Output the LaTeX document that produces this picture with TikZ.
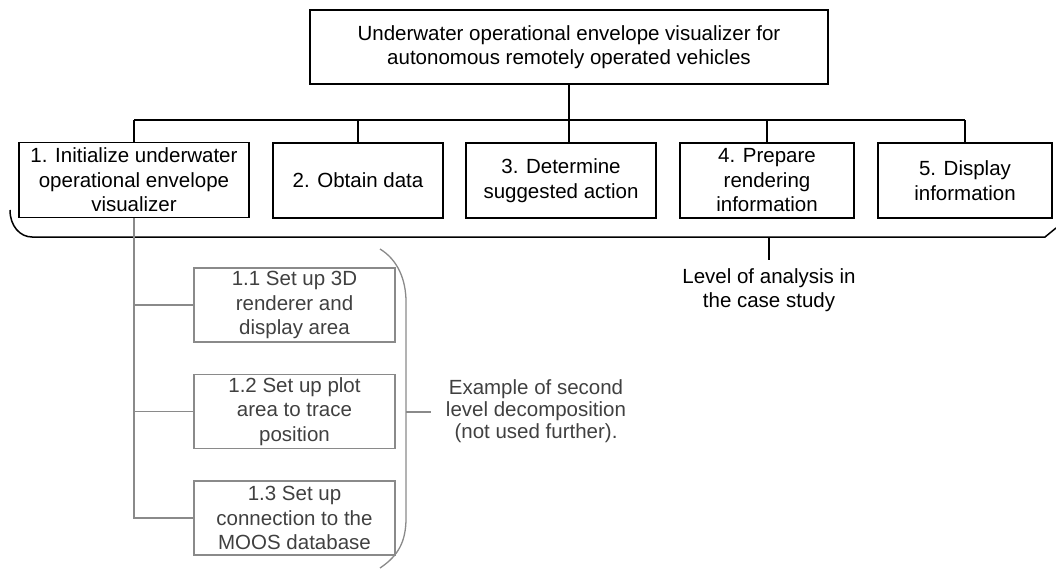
\documentclass[tikz,border=0pt]{standalone}
\usepackage{fontspec}
\setmainfont{Liberation Sans}
\definecolor{subline}{HTML}{8A8A8A}
\definecolor{subtext}{HTML}{404040}
\begin{document}
\begin{tikzpicture}[x=1pt,y=-1pt,
  every node/.style={font=\fontsize{20.5}{24.5}\selectfont, inner sep=0pt, align=center},
  task/.style={draw=black, line width=1.6pt, minimum height=75pt},
  subtask/.style={draw=subline, line width=1.3pt, text=subtext, minimum width=201pt, minimum height=74pt},
  link/.style={draw=black, line width=1.5pt},
  sublink/.style={draw=subline, line width=1.3pt},
  note/.style={text=subtext, font=\fontsize{20.5}{22}\selectfont}]
\useasboundingbox (0,0) rectangle (1056,569);

% root of the decomposition
\node[task, minimum width=518pt, minimum height=74pt] (top) at (569,47)
  {Underwater operational envelope visualizer for\\autonomous remotely operated vehicles};

% first level
\node[task, minimum width=230pt] (b1) at (134,180) {1. Initialize underwater\\operational envelope\\visualizer};
\node[task, minimum width=170pt] (b2) at (358,180.5) {2. Obtain data};
\node[task, minimum width=190pt] (b3) at (561,180.5) {3. Determine\\suggested action};
\node[task, minimum width=174pt] (b4) at (767,180.5) {4. Prepare\\rendering\\information};
\node[task, minimum width=174pt] (b5) at (965,180.5) {5. Display\\information};

\coordinate (busL) at (134,120);
\coordinate (busR) at (965,120);
\draw[link] (top.south) -- (top.south |- b3.north);
\draw[link] (busL) -- (busR);
\foreach \b in {b1,b2,b4,b5}
  \draw[link] (\b.north) -- (\b.north |- busL);

% bracket under the first level
\coordinate (brL) at (10,210);
\coordinate (brR) at (1056,228);
\coordinate (brTick) at (769,237);
\coordinate (brTickEnd) at (769,260);
\draw[link] (brL) .. controls (10,226) and (20,237) .. (32,237) -- (1045,237) -- (brR);
\draw[link] (brTick) -- (brTickEnd);
\node (lvl) at (769,290) {Level of analysis in\\the case study};

% second level of task 1
\node[subtask] (s1) at (294.5,305) {1.1 Set up 3D\\renderer and\\display area};
\node[subtask] (s2) at (294.5,411.5) {1.2 Set up plot\\area to trace\\position};
\node[subtask] (s3) at (294.5,518) {1.3 Set up\\connection to the\\MOOS database};
\draw[sublink] (b1.south) |- (s3.west);
\draw[sublink] (b1.south |- s1.west) -- (s1.west);
\draw[sublink] (b1.south |- s2.west) -- (s2.west);

% bracket round the second level
\coordinate (gbTick) at (406,412);
\coordinate (gbTickEnd) at (431,412);
\draw[sublink] (380,249) .. controls (398,260) and (406,280) .. (406,302)
  -- (406,518) .. controls (406,542) and (398,556) .. (380,568);
\draw[sublink] (gbTick) -- (gbTickEnd);
\node[note] (ex) at (536,411) {Example of second\\level decomposition\\(not used further).};
\end{tikzpicture}
\end{document}
